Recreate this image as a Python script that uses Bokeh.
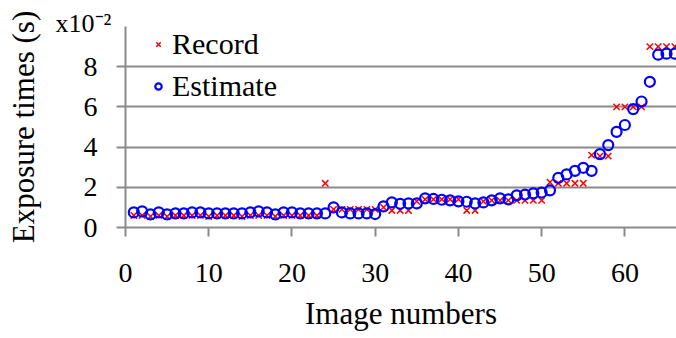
from bokeh.plotting import figure
from bokeh.models import Range1d, FixedTicker, Title, Legend, LegendItem
from bokeh.embed import file_html
from bokeh.resources import INLINE

# ---- data (values in units of 1e-2 s) ----
image_numbers = list(range(1, 67))
record = [0.6, 0.6, 0.55, 0.6, 0.55, 0.6, 0.6, 0.6, 0.6, 0.55,
          0.6, 0.6, 0.6, 0.55, 0.6, 0.6, 0.6, 0.55, 0.6, 0.6,
          0.6, 0.6, 0.6, 2.2, 0.9, 0.9, 0.9, 0.9, 0.9, 0.9,
          1.0, 0.85, 0.85, 0.85, 1.3, 1.4, 1.4, 1.4, 1.4, 1.4,
          0.85, 0.85, 1.3, 1.35, 1.35, 1.35, 1.35, 1.35, 1.35, 1.35,
          2.25, 2.2, 2.2, 2.2, 2.2, 3.6, 3.55, 3.55, 6.0, 6.0,
          6.0, 6.0, 9.0, 9.0, 9.0, 9.0]
estimate = [0.75, 0.8, 0.65, 0.75, 0.65, 0.7, 0.7, 0.75, 0.75, 0.7,
            0.7, 0.7, 0.7, 0.7, 0.75, 0.8, 0.75, 0.65, 0.75, 0.75,
            0.7, 0.7, 0.7, 0.7, 1.0, 0.75, 0.7, 0.7, 0.7, 0.67,
            1.05, 1.25, 1.18, 1.2, 1.2, 1.45, 1.42, 1.38, 1.35, 1.3,
            1.28, 1.2, 1.25, 1.35, 1.45, 1.4, 1.6, 1.64, 1.7, 1.74,
            1.85, 2.47, 2.64, 2.82, 2.97, 2.82, 3.65, 4.1, 4.76, 5.1,
            5.89, 6.27, 7.25, 8.6, 8.65, 8.65]
x_ticks = [0, 10, 20, 30, 40, 50, 60]
y_ticks = [0, 2, 4, 6, 8]
scale_text = "x10\u207b\u00b2"

FONT = "Liberation Serif"
GRAY = "#8a8a8a"

p = figure(width=676, height=338, output_backend="svg", toolbar_location=None,
           x_range=Range1d(0, 66.2), y_range=Range1d(0, 10),
           min_border_left=125, min_border_right=0, min_border_top=26,
           min_border_bottom=111)
p.outline_line_color = None
p.background_fill_color = "white"
p.border_fill_color = "white"

r_rec = p.scatter(image_numbers, record, marker="x", size=9, line_color="#FF0000",
                  line_width=1.5)
r_est = p.scatter(image_numbers, estimate, marker="circle", size=10, fill_color=None,
                  line_color="#0000FF", line_width=2.2)

# axes
p.xaxis.ticker = FixedTicker(ticks=x_ticks)
p.yaxis.ticker = FixedTicker(ticks=y_ticks)
for ax in (p.xaxis[0], p.yaxis[0]):
    ax.axis_line_color = GRAY
    ax.axis_line_width = 2
    ax.major_tick_line_color = GRAY
    ax.major_tick_line_width = 2
    ax.major_tick_in = 0
    ax.major_tick_out = 9
    ax.minor_tick_line_color = None
    ax.major_label_text_font = FONT
    ax.major_label_text_font_size = "28px"
    ax.major_label_text_color = "black"
    ax.axis_label_text_font = FONT
    ax.axis_label_text_font_size = "31px"
    ax.axis_label_text_font_style = "normal"
    ax.axis_label_text_color = "black"

p.xaxis.axis_label = "Image numbers"
p.yaxis.axis_label = "Exposure times (s)"
p.xaxis.major_label_standoff = 27
p.yaxis.major_label_standoff = 19
p.xaxis.axis_label_standoff = 11
p.yaxis.axis_label_standoff = 40

p.xgrid.grid_line_color = None
p.ygrid.grid_line_color = GRAY
p.ygrid.grid_line_width = 2

# scale label (x10^-2) above the y axis
p.add_layout(Title(text=scale_text, align="left", offset=-70, standoff=-22,
                   vertical_align="bottom", text_font=FONT, text_font_size="26px",
                   text_font_style="normal", text_color="black"), "above")

legend = Legend(items=[LegendItem(label="Record", renderers=[r_rec]),
                       LegendItem(label="Estimate", renderers=[r_est])])
legend.border_line_color = None
legend.background_fill_alpha = 0
legend.label_text_font = FONT
legend.label_text_font_size = "30px"
legend.label_text_color = "black"
legend.glyph_width = 16
legend.label_standoff = 6
legend.padding = 0
legend.margin = 0
legend.spacing = 8
legend.location = (25, 124)
p.add_layout(legend)

open("out.html", "w").write(file_html(p, INLINE))
